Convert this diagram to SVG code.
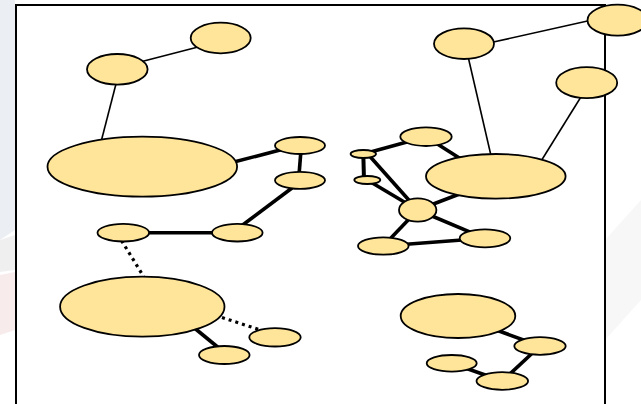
<svg xmlns="http://www.w3.org/2000/svg" width="641" height="404" viewBox="0 0 641 404">
  <style>
    .node { fill: #FFE599; stroke: #000; stroke-width: 1.8; }
    .thin { stroke: #000; stroke-width: 1.6; fill: none; }
    .thick { stroke: #000; stroke-width: 3.6; fill: none; }
    .dot { stroke: #000; stroke-width: 3.2; fill: none; stroke-dasharray: 3 4; }
  </style>
  <rect x="0" y="0" width="641" height="404" fill="#fff"/>
  <g id="watermark" opacity="0.6">
    <polygon points="0,0 15,0 15,230 0,240" fill="#dfe6ee"/>
    <polygon points="0,240 15,235 15,270 0,272" fill="#e6e6e6"/>
    <polygon points="0,275 15,272 15,330 0,335" fill="#f3dede"/>
    <polygon points="605,240 641,200 641,300 605,340" fill="#f2f2f2"/>
  </g>
  <rect id="frame" x="16" y="5" width="589" height="420" fill="#fff" stroke="#000" stroke-width="2"/>
  <g id="connectors">
    <line class="thin" x1="200" y1="46.5" x2="140" y2="62"/>
    <line class="thin" x1="117" y1="80" x2="101" y2="142"/>
    <line class="thick" x1="230" y1="163" x2="282" y2="149.5"/>
    <line class="thick" x1="301" y1="150" x2="299" y2="175"/>
    <line class="thick" x1="240" y1="227" x2="292" y2="188"/>
    <line class="thick" x1="123.3" y1="232.7" x2="237.3" y2="232.7"/>
    <line class="dot" x1="121.5" y1="240.5" x2="144.5" y2="278"/>
    <line class="dot" x1="222" y1="317.5" x2="262" y2="330.5"/>
    <line class="thick" x1="192" y1="326" x2="220" y2="349"/>
    <line class="thin" x1="490" y1="42.8" x2="592" y2="20"/>
    <line class="thin" x1="467" y1="52" x2="492" y2="160"/>
    <line class="thin" x1="584" y1="92" x2="538" y2="166"/>
    <line class="thick" x1="363.3" y1="154" x2="426" y2="136.7"/>
    <line class="thick" x1="426" y1="136.7" x2="475" y2="168"/>
    <line class="thick" x1="363.3" y1="154" x2="364" y2="180" style="stroke-width:4"/>
    <line class="thick" x1="366" y1="152" x2="417.7" y2="210"/>
    <line class="thick" x1="367.3" y1="180" x2="417.7" y2="210"/>
    <line class="thick" x1="417.7" y1="210" x2="470" y2="190"/>
    <line class="thick" x1="417.7" y1="210" x2="383.3" y2="246"/>
    <line class="thick" x1="417.7" y1="210" x2="485" y2="238.3"/>
    <line class="thick" x1="383.3" y1="246" x2="485" y2="238.3"/>
    <line class="thick" x1="458" y1="316" x2="540" y2="346"/>
    <line class="thick" x1="540" y1="346" x2="502.3" y2="381"/>
    <line class="thick" x1="451.7" y1="363.3" x2="502.3" y2="381"/>
  </g>
  <g id="nA"><ellipse class="node" cx="220.7" cy="38" rx="30" ry="15.3"/></g>
  <g id="nB"><ellipse class="node" cx="117.3" cy="69.3" rx="30.3" ry="15.3"/></g>
  <g id="nC"><ellipse class="node" cx="142.3" cy="166.7" rx="94.8" ry="30"/></g>
  <g id="nD"><ellipse class="node" cx="300" cy="145.5" rx="25" ry="8.5"/></g>
  <g id="nE"><ellipse class="node" cx="300" cy="180.3" rx="25" ry="8.5"/></g>
  <g id="nF"><ellipse class="node" cx="237.3" cy="232.7" rx="25.3" ry="8.8"/></g>
  <g id="nG"><ellipse class="node" cx="123.3" cy="232.7" rx="25.8" ry="8.8"/></g>
  <g id="nH"><ellipse class="node" cx="142.3" cy="306.7" rx="82.2" ry="30"/></g>
  <g id="nI"><ellipse class="node" cx="275" cy="337.3" rx="25.7" ry="9.2"/></g>
  <g id="nJ"><ellipse class="node" cx="224.3" cy="355" rx="25.3" ry="9"/></g>
  <g id="nK"><ellipse class="node" cx="464" cy="43.7" rx="30" ry="15.3"/></g>
  <g id="nL"><ellipse class="node" cx="617.5" cy="20.2" rx="30" ry="15.5"/></g>
  <g id="nM"><ellipse class="node" cx="586.7" cy="82.7" rx="30.5" ry="15.5"/></g>
  <g id="nN"><ellipse class="node" cx="495.8" cy="176.3" rx="69.8" ry="22.3"/></g>
  <g id="nO"><ellipse class="node" cx="426" cy="136.7" rx="25.7" ry="9.3"/></g>
  <g id="nP"><ellipse class="node" cx="363.3" cy="154" rx="12.7" ry="4"/></g>
  <g id="nQ"><ellipse class="node" cx="367.3" cy="180" rx="13" ry="4"/></g>
  <g id="nR"><ellipse class="node" cx="417.7" cy="210" rx="18.7" ry="11.7"/></g>
  <g id="nS"><ellipse class="node" cx="383.3" cy="246" rx="25.3" ry="8.7"/></g>
  <g id="nT"><ellipse class="node" cx="485" cy="238.3" rx="25.3" ry="9"/></g>
  <g id="nU"><ellipse class="node" cx="458" cy="316" rx="57.3" ry="22"/></g>
  <g id="nV"><ellipse class="node" cx="540" cy="346" rx="25.7" ry="8.8"/></g>
  <g id="nW"><ellipse class="node" cx="451.7" cy="363.3" rx="25" ry="8.3"/></g>
  <g id="nX"><ellipse class="node" cx="502.3" cy="381" rx="25.8" ry="8.8"/></g>
</svg>
